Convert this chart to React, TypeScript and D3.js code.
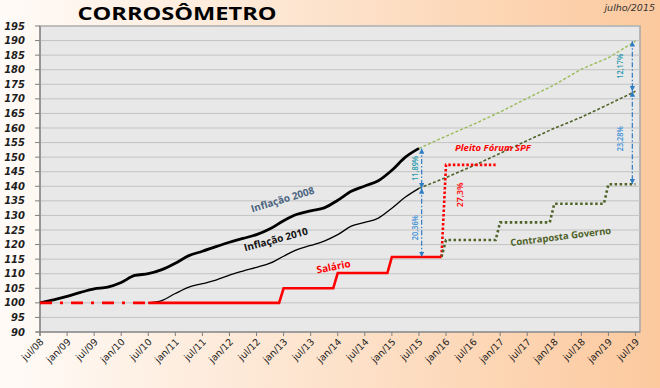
import * as d3 from "d3";

// rótulos do eixo x (a cada 6 meses, a partir de jul/08)
const rotulosX = [
  "jul/08", "jan/09", "jul/09", "jan/10", "jul/10", "jan/11", "jul/11", "jan/12",
  "jul/12", "jan/13", "jul/13", "jan/14", "jul/14", "jan/15", "jul/15", "jan/16",
  "jul/16", "jan/17", "jul/17", "jan/18", "jul/18", "jan/19", "jul/19",
];
const ticksY = d3.range(90, 196, 5);

// inflação acumulada (trimestral), base jul/08 = 100
const inflacao2008 = [
  100, 101.0, 102.2, 103.6, 104.8, 105.4, 107.0, 109.4, 110.0, 111.4, 113.6, 116.2,
  117.7, 119.3, 120.8, 122.1, 123.4, 125.4, 128.2, 130.4, 131.6, 132.6, 135.2, 138.3,
  140.1, 141.9, 145.5, 150.0, 153.0,
];
// base jul/10 = 100
const inflacao2010 = [
  100, 100.8, 103.2, 105.4, 106.6, 107.8, 109.5, 110.9, 112.2, 113.6, 116.0, 118.3,
  119.7, 121.2, 123.4, 126.3, 127.6, 129.1, 132.5, 136.3, 139.3,
];
// projeções semestrais jul/15 -> jul/19
const projecao2008 = [153.0, 157.2, 161.2, 165.5, 170.2, 174.8, 180.2, 184.1, 189.8];
const projecao2010 = [139.3, 143.0, 147.0, 151.3, 155.7, 159.9, 163.7, 168.1, 172.6];

// salário (degraus anuais)
const salarioNiveis = [100, 105, 110.25, 115.76];
const salarioInicio = [0, 54, 66, 78];
const salarioFim = 89;
const salarioTracejadoAte = 24;

const pleitoNivel = 147.36;
const pleitoInicio = 90;
const pleitoFim = 101;

const contrapostaNiveis = [121.55, 127.63, 134.01, 140.71];
const contrapostaInicio = [90, 102, 114, 126];
const contrapostaFim = 132;

const percentuais = ["11,89%", "20,36%", "27,3%", "12,17%", "23,28%"];

const W = 660;
const H = 388;
const margin = { top: 26, right: 20, bottom: 56, left: 40 };

type P = [number, number];

function degraus(niveis: number[], inicios: number[], fim: number, partida?: P): P[] {
  const pts: P[] = partida ? [partida] : [];
  niveis.forEach((v, i) => {
    const fimNivel = i < niveis.length - 1 ? inicios[i + 1] - 1 : fim;
    pts.push([inicios[i], v], [fimNivel, v]);
  });
  return pts;
}

export default function App() {
  const x = d3.scaleLinear().domain([0, 133]).range([margin.left, W - margin.right]);
  const y = d3.scaleLinear().domain([90, 195]).range([H - margin.bottom, margin.top]);
  const x0 = x.range()[0];
  const x1 = x.range()[1];
  const y0 = y.range()[0];
  const y1 = y.range()[1];

  const curva = d3.line<P>().x((d) => x(d[0])).y((d) => y(d[1])).curve(d3.curveMonotoneX);
  const reta = d3.line<P>().x((d) => x(d[0])).y((d) => y(d[1]));

  const inf08: P[] = inflacao2008.map((v, i) => [i * 3, v]);
  const inf10: P[] = inflacao2010.map((v, i) => [24 + i * 3, v]);
  const proj08: P[] = projecao2008.map((v, i) => [84 + i * 6, v]);
  const proj10: P[] = projecao2010.map((v, i) => [84 + i * 6, v]);

  const salario = degraus(salarioNiveis, salarioInicio, salarioFim);
  const salFinal = salarioNiveis[salarioNiveis.length - 1];
  const pleito: P[] = [[salarioFim, salFinal], [pleitoInicio, pleitoNivel], [pleitoFim, pleitoNivel]];
  const contraposta = degraus(contrapostaNiveis, contrapostaInicio, contrapostaFim, [salarioFim, salFinal]);

  const topoA = inflacao2008[inflacao2008.length - 1];
  const meioA = inflacao2010[inflacao2010.length - 1];
  const topoB = projecao2008[projecao2008.length - 1];
  const meioB = projecao2010[projecao2010.length - 1];
  const baseB = contrapostaNiveis[contrapostaNiveis.length - 1];
  const setaA = x(84.6);
  const setaB = x(131.3);

  const azul = "#2e7cc4";
  const teal = "#1d9aae";
  const azulClaro = "#3f92d8";
  const verdeEsc = "#4f6228";
  const verdeClaro = "#9bbb59";

  const pct = (txt: string, px: number, py: number, cor: string) => (
    <text
      transform={`translate(${px},${py}) rotate(-90)`}
      textAnchor="middle"
      dominantBaseline="central"
      fontFamily="Open Sans"
      fontWeight={600}
      fontSize={9}
      textLength={25}
      lengthAdjust="spacingAndGlyphs"
      fill={cor}
    >
      {txt}
    </text>
  );

  return (
    <svg width={W} height={H} style={{ position: "absolute", left: 0, top: 0 }}>
      <defs>
        <linearGradient id="fundo" x1="0" x2="1" y1="0" y2="0">
          <stop offset="0" stopColor="#fffbf8" />
          <stop offset="0.45" stopColor="#fde5d0" />
          <stop offset="1" stopColor="#fcc99e" />
        </linearGradient>
        <marker id="seta" viewBox="0 0 6 6" refX="6" refY="3" markerWidth="4.5" markerHeight="4.5"
          orient="auto-start-reverse">
          <path d="M0,0L6,3L0,6z" fill={azul} />
        </marker>
        <clipPath id="clipTrac">
          <rect x={0} y={0} width={x(salarioTracejadoAte)} height={H} />
        </clipPath>
        <clipPath id="clipSolido">
          <rect x={x(salarioTracejadoAte)} y={0} width={W} height={H} />
        </clipPath>
      </defs>

      <rect x={0} y={0} width={W} height={H} fill="url(#fundo)" />

      {/* área do gráfico */}
      <rect x={x0} y={y1} width={x1 - x0} height={y0 - y1} fill="#e8e8e8" stroke="#a6a6a6" strokeWidth={1.5} />
      {ticksY.map((t) => (
        <line key={t} x1={x0} x2={x1} y1={y(t)} y2={y(t)} stroke="#c3c3c3" strokeWidth={1} />
      ))}

      {/* eixos */}
      <line x1={x0} x2={x0} y1={y1} y2={y0 + 4} stroke="#7f7f7f" strokeWidth={1.2} />
      <line x1={x0 - 4} x2={x1} y1={y0} y2={y0} stroke="#7f7f7f" strokeWidth={1.2} />
      {ticksY.map((t) => (
        <g key={t}>
          <line x1={x0 - 5} x2={x0} y1={y(t)} y2={y(t)} stroke="#7f7f7f" />
          <text x={x0 - 15} y={y(t)} dy="0.35em" textAnchor="end" fontFamily="DejaVu Sans"
            fontStyle="italic" fontWeight="bold" fontSize={10} fill="#1e1e1e">
            {t}
          </text>
        </g>
      ))}
      {rotulosX.map((r, i) => (
        <g key={r}>
          <line x1={x(i * 6)} x2={x(i * 6)} y1={y0} y2={y0 + 4} stroke="#7f7f7f" />
          <text transform={`translate(${x(i * 6) + 2},${y0 + 8}) rotate(-45)`} textAnchor="end"
            dy="0.35em" fontFamily="DejaVu Sans" fontSize={9.5} fill="#1e1e1e">
            {r}
          </text>
        </g>
      ))}

      {/* projeções */}
      <path d={reta(proj08)!} fill="none" stroke={verdeClaro} strokeWidth={1.4} strokeDasharray="3,2" />
      <path d={reta(proj10)!} fill="none" stroke={verdeEsc} strokeWidth={1.6} strokeDasharray="3,2" />

      {/* inflação */}
      <path d={curva(inf08)!} fill="none" stroke="#000" strokeWidth={2.8} />
      <path d={curva(inf10)!} fill="none" stroke="#000" strokeWidth={1.3} />

      {/* pleito e contraposta */}
      <path d={reta(pleito)!} fill="none" stroke="#ff0000" strokeWidth={2.6} strokeDasharray="2.5,2" />
      <path d={reta(contraposta)!} fill="none" stroke={verdeEsc} strokeWidth={2.6} strokeDasharray="2.5,2.5" />

      {/* salário */}
      <path d={reta(salario)!} fill="none" stroke="#ff0000" strokeWidth={2.6} strokeDasharray="12,8,3,8"
        clipPath="url(#clipTrac)" />
      <path d={reta(salario)!} fill="none" stroke="#ff0000" strokeWidth={2.6} clipPath="url(#clipSolido)" />

      {/* setas de diferença */}
      <g stroke={azul} strokeWidth={1.2} strokeDasharray="5,2,1.5,2" fill="none">
        <line x1={setaA} x2={setaA} y1={y(topoA)} y2={y(meioA)} markerStart="url(#seta)" markerEnd="url(#seta)" />
        <line x1={setaA} x2={setaA} y1={y(meioA)} y2={y(salFinal)} markerStart="url(#seta)" markerEnd="url(#seta)" />
        <line x1={setaB} x2={setaB} y1={y(topoB)} y2={y(meioB)} markerStart="url(#seta)" markerEnd="url(#seta)" />
        <line x1={setaB} x2={setaB} y1={y(meioB)} y2={y(baseB)} markerStart="url(#seta)" markerEnd="url(#seta)" />
      </g>
      {pct(percentuais[0], setaA - 7, y((topoA + meioA) / 2), teal)}
      {pct(percentuais[1], setaA - 7, y((meioA + salFinal) / 2) + 5, azulClaro)}
      {pct(percentuais[2], x(pleitoInicio) + 13, y(pleitoNivel) + 30, "#ff0000")}
      {pct(percentuais[3], setaB - 13, y((topoB + meioB) / 2), teal)}
      {pct(percentuais[4], setaB - 13, y((meioB + baseB) / 2) + 1, azulClaro)}

      {/* rótulos das séries */}
      <g fontFamily="Open Sans" fontWeight="bold" textAnchor="middle">
        <text transform={`translate(${x(54)},${y(134.3)}) rotate(-17)`} fontSize={10} fill="#4d6580">
          Inflação 2008
        </text>
        <text transform={`translate(${x(52.5)},${y(120.6)}) rotate(-15)`} fontSize={10} fill="#111">
          Inflação 2010
        </text>
        <text transform={`translate(${x(65.2)},${y(111.2)}) rotate(-11)`} fontSize={10} fill="#ff0000">
          Salário
        </text>
        <text x={x(100.4)} y={y(152.2)} fontSize={9.5} fontStyle="italic" fill="#ff0000">
          Pleito Fórum SPF
        </text>
        <text transform={`translate(${x(115.5)},${y(121.6)}) rotate(-7)`} fontSize={9.5} fill={verdeEsc}>
          Contraposta Governo
        </text>
      </g>

      {/* títulos */}
      <text x={177} y={20} textAnchor="middle" fontFamily="Open Sans" fontWeight="bold" fontSize={17}
        textLength={199} lengthAdjust="spacingAndGlyphs" fill="#000">
        CORROSÔMETRO
      </text>
      <text x={655} y={11} textAnchor="end" fontFamily="DejaVu Sans" fontStyle="italic" fontSize={9.5}
        fill="#333">
        julho/2015
      </text>
    </svg>
  );
}
